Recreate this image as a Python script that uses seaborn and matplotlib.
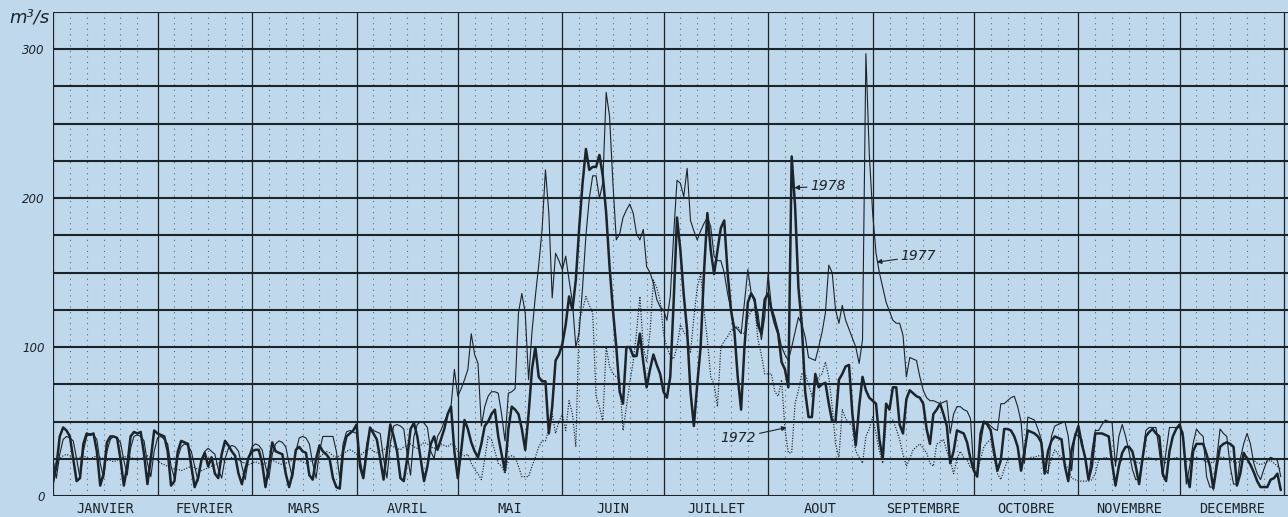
import numpy as np
import pandas as pd
import matplotlib.pyplot as plt
import seaborn as sns

# daily discharge (m3/s), one line per week
months = ["JANVIER", "FEVRIER", "MARS", "AVRIL", "MAI", "JUIN", "JUILLET",
          "AOUT", "SEPTEMBRE", "OCTOBRE", "NOVEMBRE", "DECEMBRE"]
month_len = [31, 28, 31, 30, 31, 30, 31, 31, 30, 31, 30, 31]
y_labels = [0, 100, 200, 300]

q1978 = [
    9, 20, 40, 46, 44, 40, 25,
    10, 12, 35, 42, 41, 42, 30,
    7, 15, 36, 40, 40, 39, 25,
    7, 20, 40, 43, 42, 43, 28,
    8, 25, 44, 42, 41, 40, 30,
    7, 10, 30, 37, 36, 35, 20,
    6, 12, 24, 29, 20, 26, 15,
    12, 28, 37, 34, 30, 27, 15,
    8, 18, 26, 30, 31, 31, 22,
    6, 20, 36, 30, 29, 28, 15,
    6, 15, 31, 33, 30, 29, 14,
    11, 25, 34, 30, 28, 25, 12,
    6, 5, 30, 40, 42, 44, 48,
    20, 12, 30, 46, 42, 38, 25,
    11, 30, 48, 40, 30, 12, 10,
    25, 45, 49, 40, 25, 10, 20,
    35, 40, 31, 38, 45, 55, 60,
    30, 12, 30, 51, 45, 36, 30,
    26, 35, 47, 50, 55, 58, 40,
    28, 17, 45, 60, 58, 55, 45,
    31, 55, 85, 100, 80, 77, 77,
    42, 60, 91, 95, 102, 115, 134,
    125, 145, 180, 210, 233, 219, 221,
    221, 229, 215, 190, 154, 125, 100,
    70, 62, 100, 100, 94, 94, 109,
    90, 73, 85, 95, 88, 82, 70,
    66, 80, 130, 187, 165, 135, 111,
    70, 47, 75, 100, 150, 190, 165,
    149, 165, 180, 185, 150, 125, 111,
    80, 58, 100, 130, 136, 132, 115,
    109, 132, 136, 125, 116, 109, 90,
    85, 73, 228, 195, 140, 115, 70,
    53, 53, 82, 73, 75, 76, 62,
    50, 50, 78, 82, 87, 88, 55,
    34, 60, 80, 71, 66, 64, 62,
    38, 25, 62, 58, 73, 73, 48,
    42, 65, 71, 69, 67, 66, 62,
    45, 35, 55, 58, 62, 55, 47,
    22, 30, 44, 43, 42, 36, 25,
    17, 13, 42, 50, 48, 44, 30,
    17, 24, 45, 45, 44, 40, 33,
    17, 30, 44, 43, 42, 40, 36,
    15, 30, 37, 40, 39, 38, 20,
    10, 31, 40, 47, 35, 26, 11,
    20, 42, 42, 42, 41, 40, 22,
    7, 20, 29, 33, 33, 30, 20,
    8, 25, 40, 43, 45, 42, 40,
    15, 10, 30, 40, 45, 48, 40,
    15, 6, 30, 35, 35, 35, 28,
    20, 5, 20, 33, 35, 36, 35,
    33, 7, 15, 29, 25, 21, 16,
    10, 6, 6, 6, 11, 12, 15,
    4,
]

q1977 = [
    25, 12, 28, 38, 40, 39, 37,
    25, 12, 30, 40, 42, 41, 38,
    22, 12, 30, 38, 40, 39, 36,
    24, 14, 32, 40, 41, 40, 37,
    22, 13, 30, 39, 40, 38, 35,
    20, 12, 26, 33, 35, 34, 30,
    20, 10, 24, 30, 32, 30, 28,
    18, 12, 25, 32, 34, 33, 30,
    20, 11, 26, 33, 35, 34, 31,
    20, 12, 28, 35, 37, 36, 33,
    22, 12, 30, 39, 40, 39, 35,
    22, 12, 30, 40, 40, 40, 40,
    30, 12, 35, 43, 44, 43, 42,
    25, 13, 35, 45, 44, 43, 42,
    25, 12, 35, 47, 48, 47, 45,
    28, 14, 40, 48, 50, 49, 46,
    30, 25, 40, 44, 50, 55, 60,
    85, 67, 72, 78, 85, 109, 95,
    89, 47, 60, 67, 70, 70, 69,
    55, 37, 69, 70, 72, 123, 136,
    123, 78, 110, 134, 155, 179, 219,
    190, 133, 163, 158, 152, 161, 145,
    130, 100, 110, 140, 175, 200, 215,
    215, 200, 210, 271, 255, 210, 172,
    176, 187, 192, 196, 190, 176, 172,
    179, 154, 150, 143, 132, 127, 125,
    118, 134, 175, 212, 210, 201, 220,
    185, 178, 172, 178, 183, 187, 181,
    161, 158, 158, 150, 136, 125, 114,
    112, 109, 130, 152, 136, 130, 123,
    105, 120, 149, 127, 120, 111, 100,
    95, 91, 100, 110, 120, 115, 107,
    93, 92, 91, 100, 110, 123, 155,
    150, 125, 116, 128, 118, 112, 106,
    100, 89, 105, 297, 230, 190, 163,
    150, 140, 130, 124, 118, 116, 116,
    108, 80, 93, 92, 91, 80, 71,
    66, 64, 64, 63, 62, 63, 64,
    42, 55, 60, 60, 58, 57, 52,
    17, 13, 35, 49, 49, 47, 45,
    44, 62, 62, 64, 66, 67, 60,
    50, 22, 53, 52, 51, 45, 38,
    18, 15, 40, 47, 48, 49, 50,
    40, 17, 42, 40, 38, 25, 11,
    30, 44, 44, 48, 51, 50, 49,
    20, 40, 48, 40, 30, 18, 11,
    11, 25, 44, 46, 46, 46, 30,
    13, 30, 46, 46, 46, 46, 43,
    8, 20, 35, 45, 42, 40, 13,
    6, 6, 25, 45, 42, 40, 20,
    8, 8, 25, 35, 42, 35, 22,
    15, 11, 18, 24, 26, 25, 24,
    13,
]

q1972 = [
    20, 22, 25, 27, 28, 27, 26,
    25, 26, 27, 26, 25, 26, 27,
    26, 25, 24, 24, 23, 24, 25,
    26, 27, 26, 25, 24, 25, 26,
    27, 26, 25, 24, 22, 21, 20,
    19, 18, 18, 17, 18, 19, 20,
    19, 18, 17, 18, 19, 20, 21,
    22, 23, 24, 25, 26, 25, 24,
    23, 22, 21, 22, 23, 22, 21,
    22, 23, 24, 23, 22, 21, 22,
    23, 24, 25, 24, 23, 22, 23,
    24, 25, 26, 28, 30, 29, 27,
    26, 27, 28, 30, 31, 30, 28,
    27, 29, 31, 32, 30, 29, 30,
    31, 33, 34, 33, 32, 31, 33,
    34, 35, 33, 32, 34, 36, 35,
    33, 32, 34, 35, 34, 33, 35,
    34, 30, 28, 27, 28, 22, 18,
    15, 11, 25, 40, 38, 30, 22,
    20, 15, 26, 27, 26, 20, 13,
    13, 13, 20, 26, 33, 37, 37,
    45, 55, 42, 50, 55, 44, 64,
    55, 33, 118, 125, 134, 128, 123,
    67, 60, 50, 100, 87, 82, 80,
    78, 44, 60, 76, 90, 110, 134,
    100, 90, 110, 145, 140, 131, 109,
    100, 94, 92, 100, 115, 110, 107,
    96, 120, 140, 149, 125, 105, 80,
    75, 60, 100, 104, 107, 111, 112,
    114, 110, 109, 120, 124, 127, 105,
    95, 82, 82, 82, 70, 67, 78,
    45, 29, 29, 62, 71, 82, 82,
    75, 67, 75, 80, 82, 90, 80,
    60, 35, 26, 58, 52, 49, 47,
    30, 26, 22, 40, 45, 53, 42,
    30, 22, 49, 50, 51, 45, 38,
    28, 20, 25, 31, 33, 35, 32,
    29, 22, 20, 35, 36, 38, 30,
    24, 15, 25, 30, 26, 24, 19,
    20, 15, 25, 33, 36, 38, 25,
    15, 11, 18, 24, 25, 25, 25,
    24, 24, 25, 26, 26, 27, 27,
    20, 17, 25, 31, 28, 26, 22,
    18, 12, 11, 10, 10, 10, 10,
    11, 15, 24, 25, 26, 25, 24,
    24, 23, 24, 25, 25, 24, 23,
    22, 24, 25, 26, 25, 24, 25,
    24, 22, 24, 25, 26, 25, 24,
    23, 24, 25, 26, 25, 24, 23,
    22, 23, 25, 26, 26, 25, 24,
    23, 22, 24, 25, 26, 25, 24,
    22, 21, 22, 23, 24, 22, 20,
    18,
]

bg = "#bfd8eb"
ink = "#1b232b"

days = np.arange(365)
df = pd.concat([
    pd.DataFrame({"day": days, "flow": q1978, "year": "1978"}),
    pd.DataFrame({"day": days, "flow": q1977, "year": "1977"}),
    pd.DataFrame({"day": days, "flow": q1972, "year": "1972"}),
])

sns.set_style("white", {"axes.facecolor": bg, "figure.facecolor": bg})

W, H = 1288, 517
fig = plt.figure(figsize=(W / 100, H / 100), dpi=100)
ax = fig.add_axes([53 / W, 21 / H, (W - 53) / W, 484 / H])
xmax = (W - 53) / 3.373
ax.set_xlim(0, xmax)
ax.set_ylim(0, 325)

# grid: heavy horizontals every 25, month rules, dotted 5-day rules
starts = np.concatenate([[0], np.cumsum(month_len)])
ax.hlines(np.arange(0, 326, 25), 0, xmax, color=ink, lw=1.5, zorder=1)
ax.vlines(starts, 0, 325, color=ink, lw=0.9, zorder=1)
dots = [s + d for s in starts[:-1] for d in (5, 10, 15, 20, 25)]
ax.vlines(dots, 0, 325, color=ink, lw=0.8, linestyles=(0, (1, 4)), alpha=0.6, zorder=1)

sns.lineplot(data=df[df.year == "1972"], x="day", y="flow", ax=ax, color=ink,
             lw=0.85, linestyle=(0, (1, 1.3)), errorbar=None, zorder=3)
sns.lineplot(data=df[df.year == "1977"], x="day", y="flow", ax=ax, color=ink,
             lw=0.8, errorbar=None, zorder=4)
sns.lineplot(data=df[df.year == "1978"], x="day", y="flow", ax=ax, color=ink,
             lw=1.8, errorbar=None, zorder=5)

for sp in ax.spines.values():
    sp.set_visible(False)

ax.set_yticks(y_labels)
ax.set_yticklabels([str(v) for v in y_labels], fontstyle="italic", fontsize=8.5, color=ink)
ax.tick_params(axis="y", length=0, pad=6)

mids = (starts[:-1] + starts[1:]) / 2
ax.set_xticks(mids)
ax.set_xticklabels(months, family="DejaVu Sans Mono", fontsize=9.8, color=ink)
ax.tick_params(axis="x", length=0, pad=4)
ax.set_xlabel("")
ax.set_ylabel("")

fig.text(9 / W, 1 - 18 / H, "m³/s", fontstyle="italic", fontsize=13, color=ink, va="center")

arrow = dict(arrowstyle="-|>", lw=0.8, color=ink, mutation_scale=7, shrinkA=0, shrinkB=0)
ax.annotate("1978", xy=(219.8, 207), xytext=(224.5, 208), fontstyle="italic",
            fontsize=10, color=ink, va="center", arrowprops=arrow)
ax.annotate("1977", xy=(244.2, 157), xytext=(251.3, 161), fontstyle="italic",
            fontsize=10, color=ink, va="center", arrowprops=arrow)
ax.annotate("1972", xy=(217.5, 46), xytext=(208.5, 39), fontstyle="italic",
            fontsize=10, color=ink, va="center", ha="right", arrowprops=arrow)

fig.savefig("out.png", dpi=100, facecolor=bg)
